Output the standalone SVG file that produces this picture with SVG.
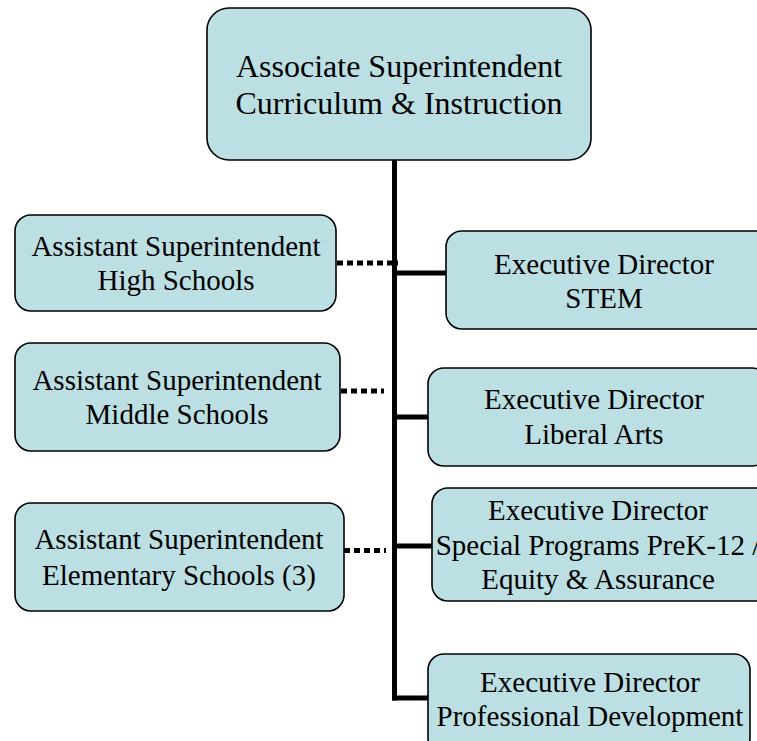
<svg xmlns="http://www.w3.org/2000/svg" width="757" height="741" viewBox="0 0 757 741">
<style>
.box{fill:#bbdfe2;stroke:#000;stroke-width:1.6}
.t{font-family:"Liberation Serif","Times New Roman",serif;font-size:29px;fill:#000;text-anchor:middle}
.big{font-size:32px}
.solid{stroke:#000;stroke-width:5;fill:none}
.dot{stroke:#000;stroke-width:5;fill:none;stroke-dasharray:6,4}
</style>
<rect width="757" height="741" fill="#fff"/>
<g id="connectors">
<line class="solid" x1="394.5" y1="160" x2="394.5" y2="700.5"/>
<line class="solid" x1="392" y1="273" x2="447" y2="273"/>
<line class="solid" x1="392" y1="417" x2="428" y2="417"/>
<line class="solid" x1="392" y1="546" x2="432" y2="546"/>
<line class="solid" x1="392" y1="698" x2="428" y2="698"/>
<line class="dot" x1="337" y1="263" x2="398" y2="263"/>
<line class="dot" x1="341" y1="391" x2="384" y2="391"/>
<line class="dot" x1="344" y1="550.5" x2="386" y2="550.5"/>
</g>
<g id="n-associate">
<rect class="box" x="207" y="8" width="384" height="152" rx="22"/>
<text class="t big" x="399" y="77">Associate Superintendent</text>
<text class="t big" x="399" y="114">Curriculum &amp; Instruction</text>
</g>
<g id="n-high">
<rect class="box" x="15" y="215" width="321" height="96" rx="16"/>
<text class="t" x="176" y="256">Assistant Superintendent</text>
<text class="t" x="176" y="290">High Schools</text>
</g>
<g id="n-middle">
<rect class="box" x="15" y="343" width="325" height="108" rx="16"/>
<text class="t" x="177" y="390">Assistant Superintendent</text>
<text class="t" x="177" y="424">Middle Schools</text>
</g>
<g id="n-elementary">
<rect class="box" x="15" y="503" width="329" height="108" rx="16"/>
<text class="t" x="179" y="549">Assistant Superintendent</text>
<text class="t" x="179" y="585">Elementary Schools (3)</text>
</g>
<g id="n-stem">
<rect class="box" x="446" y="231" width="330" height="98" rx="16"/>
<text class="t" x="604" y="274">Executive Director</text>
<text class="t" x="604" y="308">STEM</text>
</g>
<g id="n-liberal">
<rect class="box" x="428" y="368" width="340" height="98" rx="16"/>
<text class="t" x="594" y="409">Executive Director</text>
<text class="t" x="594" y="444">Liberal Arts</text>
</g>
<g id="n-special">
<rect class="box" x="432" y="488" width="340" height="113" rx="16"/>
<text class="t" x="598" y="520">Executive Director</text>
<text class="t" x="598" y="555">Special Programs PreK-12 /</text>
<text class="t" x="598" y="589">Equity &amp; Assurance</text>
</g>
<g id="n-profdev">
<rect class="box" x="428" y="654" width="322" height="100" rx="16"/>
<text class="t" x="590" y="692">Executive Director</text>
<text class="t" x="590" y="726">Professional Development</text>
</g>
</svg>
